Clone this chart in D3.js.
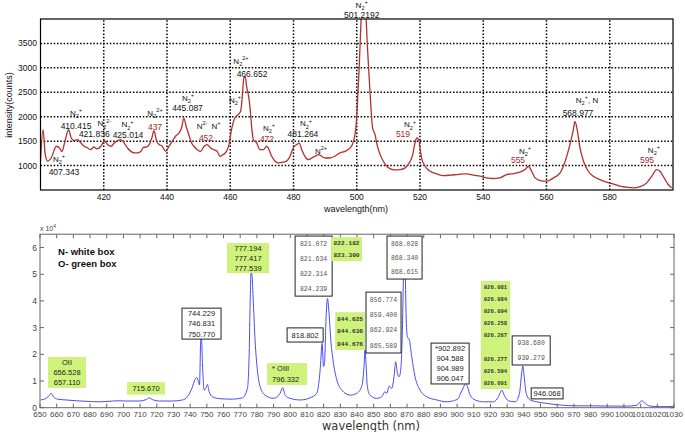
<!DOCTYPE html>
<html><head><meta charset="utf-8">
<script src="https://cdn.jsdelivr.net/npm/d3@7"></script>
<style>body{margin:0;background:#fff} svg{display:block}</style>
</head><body>
<svg id="c" width="685" height="432"></svg>
<script>
// ---------- TOP SPECTRUM (400-600 nm) ----------
const topNm = [400,400.8,401.5,402.3,403.4,405,406,406.8,407.6,408.9,409.7,410.7,411.7,412.8,413.8,414.9,415.9,416.8,417.9,419.1,420.2,421.2,422.3,423.3,424.4,425.4,426.5,427.5,428.6,429.6,430.7,431.7,432.6,433.3,434.4,435.2,435.9,436.7,437.5,438.5,439.6,440.6,441.7,442.7,443.8,444.6,445.3,446.2,446.9,447.8,448.5,449.6,450.6,451.7,452.7,453.8,454.8,455.9,456.7,457.8,458.8,459.6,460.4,461.4,462.4,463.3,463.8,464.3,464.8,465.1,465.9,466.3,466.8,467.3,468.4,469.4,470.5,471.5,472,473.1,474.2,475.2,476.8,477.8,478.9,479.9,481,481.8,482.6,483.6,484.7,485.8,486.8,487.9,488.9,490,491.5,493.1,494.7,496.3,497.9,499,499.8,500.2,500.8,501.3,502,502.9,503.4,504,504.5,505,505.8,506.3,507.4,508.4,509.5,510.5,512.1,513.7,515.3,516.6,517.7,518.4,519,519.6,520,520.5,521.6,523.2,525.3,527.4,529.5,531.6,533.7,534.8,536.9,539,541.1,543.2,545.3,547.4,549.5,551.6,553.2,554.3,555.3,556.4,558,560.1,562.2,564.3,565.9,567.4,568.5,569,569.7,570.6,571.7,573.2,574.8,576.9,579,581.1,583.2,585.3,587.5,589.6,591.7,593.3,594.8,595.9,597.2,598.5,599.6];
const topCounts = [1090,1735,1225,1090,1160,1395,1360,1290,1460,1735,1565,1510,1530,1460,1395,1360,1325,1380,1340,1395,1510,1430,1395,1460,1510,1530,1460,1360,1290,1260,1260,1290,1375,1375,1430,1565,1715,1500,1430,1395,1290,1395,1500,1600,1670,1770,1970,1770,1630,1460,1395,1325,1290,1395,1430,1360,1325,1290,1190,1225,1290,1430,1735,1970,2040,2110,2415,2790,2820,2650,2380,2150,1770,1530,1460,1325,1325,1395,1360,1190,1090,1055,1070,1090,1190,1360,1430,1460,1325,1190,1120,1155,1190,1225,1190,1155,1155,1190,1260,1290,1360,1500,1836,2244,3060,3876,5200,4100,3400,2720,2176,1770,1632,1460,1224,1088,986,939,912,918,952,1054,1224,1462,1564,1530,1360,1156,986,884,830,796,803,816,830,830,803,782,748,735,748,816,836,864,918,986,884,748,694,680,748,850,1088,1428,1734,1904,1734,1360,1088,884,782,714,660,626,578,558,544,571,646,782,918,884,748,612,544];
const topXTicks = [420,440,460,480,500,520,540,560,580];
const topYTicks = [1000,1500,2000,2500,3000,3500];

const topIonLabels = [
 {nm:405.85,c:1073,t:"N_2^+"},{nm:411.23,c:2015,t:"N_2^+"},{nm:420.2,c:1800,t:"N_2^2-"},
 {nm:427.51,c:1780,t:"N_2^+"},{nm:436.21,c:2015,t:"N_2^2+"},{nm:446.64,c:2330,t:"N_2^+"},
 {nm:451.07,c:1749,t:"N^2-"},{nm:455.49,c:1749,t:"N^+"},{nm:461.50,c:2281,t:"N_2^+"},
 {nm:463.40,c:3079,t:"N_2^2+"},{nm:472.25,c:1715,t:"N_2^+"},{nm:483.95,c:1800,t:"N_2^+"},
 {nm:488.70,c:1237,t:"N^2+"},{nm:501.57,c:4230,t:"N_2^+"},{nm:516.84,c:1780,t:"N_2^+"},
 {nm:553.20,c:1237,t:"N_2^+"},{nm:572.81,c:2281,t:"N_2^+, N"},{nm:593.98,c:1257,t:"N_2^+"}
];
const topPeakLabels = [
 {nm:407.43,c:807,t:"407.343",red:false},{nm:411.23,c:1749,t:"410.415",red:false},
 {nm:417.0,c:1590,t:"421.836",red:false},{nm:427.67,c:1570,t:"425.014",red:false},
 {nm:436.21,c:1728,t:"437",red:true},{nm:446.48,c:2117,t:"445.087",red:false},
 {nm:452.33,c:1503,t:"452",red:true},{nm:466.88,c:2813,t:"466.652",red:false},
 {nm:471.62,c:1490,t:"472",red:true},{nm:483.00,c:1575,t:"481.264",red:false},
 {nm:501.57,c:4021,t:"501.2192",red:false},{nm:514.62,c:1575,t:"519",red:true},
 {nm:550.99,c:1053,t:"555",red:true},{nm:569.96,c:2015,t:"568.977",red:false},
 {nm:591.78,c:1053,t:"595",red:true}
];

// ---------- BOTTOM SPECTRUM (650-1030 nm), intensity x10^4 ----------
const botNm = [650.4,653.6,655.7,656.7,658,660.6,665.6,671.6,677.6,685.5,693.5,697.5,701.5,709.5,713.5,715.5,717.5,721.5,729.4,735.4,738.4,741,743,744,745,745.6,746.4,746.8,747.4,748.4,749.4,750.4,751.4,753.4,757.4,765.3,771.3,774.3,775.3,775.9,776.5,777,777.9,778.9,780.3,781.9,784.9,789.9,793.9,795.5,796.9,799.9,805.9,811.9,815.9,817.9,819.1,819.9,820.5,821.5,822.3,823.1,824.3,825.9,827.9,830.9,835.9,839.9,842.8,844.2,844.8,845.4,846.2,847.8,851.8,854.8,856.8,857.8,859.4,860.8,862.2,863.2,864.2,865.2,866.2,867.2,867.8,868.4,869,869.4,870.2,871.4,872.8,874.8,877.8,881.8,887.8,893.8,897.8,900.8,901.8,903.8,905.2,906.2,907.8,910.8,915.8,921.8,924.8,926.8,928.2,930.8,934.8,937.4,938.8,939.4,940.2,941.4,943.8,947.8,953.8,961.8,971.8,981.8,991.8,1001.8,1007.7,1010.7,1012.7,1015.7,1021.7,1030];
const botIntensity = [0.29,0.35,0.47,0.54,0.41,0.32,0.29,0.26,0.24,0.22,0.25,0.26,0.25,0.25,0.30,0.37,0.30,0.25,0.25,0.29,0.41,0.72,1.07,1.13,0.97,0.85,2.6,2.6,1.6,0.66,0.72,0.87,0.6,0.41,0.34,0.32,0.37,0.72,1.85,3.72,5.1,5.0,3.9,2.53,1.41,0.79,0.47,0.35,0.54,0.75,0.47,0.35,0.29,0.37,0.54,1.41,2.41,1.54,1.66,3.41,4.09,3.66,2.53,1.66,1.04,0.66,0.47,0.54,0.79,1.54,2.16,1.66,0.79,0.47,0.35,0.41,0.6,0.54,0.81,0.72,1.16,1.72,1.29,1.16,1.41,2.9,4.78,6.2,5.0,3.53,2.66,2.53,1.91,1.16,0.66,0.41,0.29,0.22,0.26,0.35,0.5,0.75,0.94,0.79,0.47,0.29,0.22,0.22,0.41,0.66,0.47,0.26,0.22,0.54,1.35,1.56,1.16,0.54,0.29,0.22,0.16,0.1,0.07,0.07,0.06,0.06,0.09,0.26,0.16,0.06,0.04,0.04];
const botXTicks = [650,660,670,680,690,700,710,720,730,740,750,760,770,780,790,800,810,820,830,840,850,860,870,880,890,900,910,920,930,940,950,960,970,980,990,1000,1010,1020,1030];
const botYTicks = [0,1,2,3,4,5,6];

// boxes: nm range, intensity range, style, lines ("" = blank slot)
const botBoxes = [
 {x0:654.8,x1:677.6,y0:1.90,y1:0.74,s:"g",lines:["OII","656.528","657.110"]},
 {x0:702.2,x1:724.9,y0:0.96,y1:0.49,s:"g",lines:["715.670"]},
 {x0:735.1,x1:758.5,y0:3.73,y1:2.57,s:"w",lines:["744.229","746.831","750.770"]},
 {x0:762.1,x1:787.3,y0:6.17,y1:5.04,s:"g",lines:["777.194","777.417","777.539"]},
 {x0:798.1,x1:819.7,y0:2.99,y1:2.46,s:"w",lines:["818.802"]},
 {x0:786.1,x1:810.1,y0:1.67,y1:0.85,s:"gl",lines:["* OIII","796.332"]},
 {x0:802.9,x1:825.1,y0:6.43,y1:4.18,s:"wm",lines:["821.072","821.634","822.314","824.239"]},
 {x0:824.5,x1:843.0,y0:6.39,y1:5.49,s:"gm",lines:["822.182","823.300"]},
 {x0:826.9,x1:844.8,y0:3.58,y1:2.16,s:"gm",lines:["844.625","844.636","844.676"]},
 {x0:845.4,x1:866.4,y0:4.33,y1:2.05,s:"wm",lines:["856.774","859.400","862.924","865.589"]},
 {x0:858.0,x1:879.0,y0:6.43,y1:4.82,s:"wm",lines:["868.028","868.340","868.615"]},
 {x0:884.4,x1:907.2,y0:2.42,y1:0.89,s:"w",lines:["*902.892","904.588","904.989","906.047"]},
 {x0:914.2,x1:931.8,y0:4.75,y1:0.70,s:"gs",lines:["926.081","926.084","926.094","926.258","926.267","","926.277","926.594","926.601"]},
 {x0:933.0,x1:955.8,y0:2.69,y1:1.60,s:"wm",lines:["938.680","939.279"]},
 {x0:944.4,x1:963.5,y0:0.74,y1:0.33,s:"w",lines:["946.068"]}
];
const botLegend = [{nm:660.8,v:5.72,t:"N- white box"},{nm:660.8,v:5.27,t:"O- green box"}];

// ---------- drawing ----------
const svg = d3.select("#c");
const SANS = "'Liberation Sans', Arial, sans-serif";
const MONO = "'Liberation Mono', 'Courier New', monospace";

function richText(sel, str, size) {
  const segs = []; let mode = 0, buf = "";
  for (const ch of str) {
    if (ch === "_" || ch === "^") { if (buf) segs.push([buf, mode]); buf = ""; mode = ch === "_" ? 1 : 2; continue; }
    if (mode !== 0 && (ch === " " || ch === ",")) { if (buf) segs.push([buf, mode]); buf = ""; mode = 0; }
    buf += ch;
  }
  if (buf) segs.push([buf, mode]);
  let cur = 0;
  segs.forEach(([t, m]) => {
    const off = m === 1 ? size * 0.28 : m === 2 ? -size * 0.45 : 0;
    sel.append("tspan").attr("dy", off - cur).attr("font-size", m ? size * 0.7 : size).text(t);
    cur = off;
  });
}

// TOP
const tx = d3.scaleLinear().domain([400, 600]).range([40.5, 673]);
const ty = d3.scaleLinear().domain([500, 4000]).range([190, 19]);
const gT = svg.append("g");
gT.append("clipPath").attr("id", "clipT").append("rect")
  .attr("x", tx(400)).attr("y", ty(4000)).attr("width", tx(600) - tx(400)).attr("height", ty(500) - ty(4000));
// grid
gT.selectAll(".vg").data(topXTicks).join("line")
  .attr("x1", d => tx(d)).attr("x2", d => tx(d)).attr("y1", ty(500)).attr("y2", ty(4000))
  .attr("stroke", "#000").attr("stroke-width", 1.5).attr("stroke-dasharray", "1.5,1.8");
gT.selectAll(".hg").data(topYTicks).join("line")
  .attr("x1", tx(400)).attr("x2", tx(600)).attr("y1", d => ty(d)).attr("y2", d => ty(d))
  .attr("stroke", "#000").attr("stroke-width", 1.5).attr("stroke-dasharray", "1.5,1.8");
// line
const topData = topNm.map((n, i) => [n, topCounts[i]]);
gT.append("path").datum(topData).attr("clip-path", "url(#clipT)")
  .attr("d", d3.line().x(d => tx(d[0])).y(d => ty(d[1])).curve(d3.curveMonotoneX))
  .attr("fill", "none").attr("stroke", "#b3302f").attr("stroke-width", 1.3);
// frame
gT.append("rect").attr("x", tx(400)).attr("y", ty(4000)).attr("width", tx(600) - tx(400)).attr("height", ty(500) - ty(4000))
  .attr("fill", "none").attr("stroke", "#000").attr("stroke-width", 1.2);
// axes labels
gT.selectAll(".xt").data(topXTicks).join("text")
  .attr("x", d => tx(d)).attr("y", 200).attr("text-anchor", "middle")
  .attr("font-family", SANS).attr("font-size", 8.5).attr("fill", "#111").text(d => d);
gT.selectAll(".yt").data(topYTicks).join("text")
  .attr("x", 37).attr("y", d => ty(d) + 3).attr("text-anchor", "end")
  .attr("font-family", SANS).attr("font-size", 8.5).attr("fill", "#111").text(d => d);
gT.append("text").attr("transform", "translate(12,105) rotate(-90)").attr("text-anchor", "middle")
  .attr("font-family", SANS).attr("font-size", 9).attr("fill", "#111").text("intensity(counts)");
gT.append("text").attr("x", 356).attr("y", 212).attr("text-anchor", "middle")
  .attr("font-family", SANS).attr("font-size", 9).attr("fill", "#111").text("wavelength(nm)");
// annotations
topIonLabels.forEach(l => {
  const t = gT.append("text").attr("x", tx(l.nm)).attr("y", ty(l.c)).attr("text-anchor", "middle")
    .attr("font-family", SANS).attr("fill", "#111").style("white-space", "pre");
  richText(t, l.t, 8);
});
gT.selectAll(".pl").data(topPeakLabels).join("text")
  .attr("x", d => tx(d.nm)).attr("y", d => ty(d.c)).attr("text-anchor", "middle")
  .attr("font-family", SANS).attr("font-size", 8.5)
  .attr("fill", d => d.red ? "#a5282a" : "#111").text(d => d.t);

// BOTTOM
const bx = d3.scaleLinear().domain([650, 1030]).range([40, 674]);
const by = d3.scaleLinear().domain([0, 6.5]).range([407.7, 234.2]);
const gB = svg.append("g");
gB.append("clipPath").attr("id", "clipB").append("rect")
  .attr("x", bx(650)).attr("y", by(6.5)).attr("width", bx(1030) - bx(650)).attr("height", by(0) - by(6.5));
const botData = botNm.map((n, i) => [n, botIntensity[i]]);
gB.append("path").datum(botData).attr("clip-path", "url(#clipB)")
  .attr("d", d3.line().x(d => bx(d[0])).y(d => by(d[1])).curve(d3.curveMonotoneX))
  .attr("fill", "none").attr("stroke", "#4b4bf0").attr("stroke-width", 1);
// frame and ticks
gB.append("rect").attr("x", bx(650)).attr("y", by(6.5)).attr("width", bx(1030) - bx(650)).attr("height", by(0) - by(6.5))
  .attr("fill", "none").attr("stroke", "#666").attr("stroke-width", 1);
const tk = 4;
gB.selectAll(".bt").data(botXTicks).join("line")
  .attr("x1", d => bx(d)).attr("x2", d => bx(d)).attr("y1", by(0)).attr("y2", by(0) - tk).attr("stroke", "#666");
gB.selectAll(".tt").data(botXTicks).join("line")
  .attr("x1", d => bx(d)).attr("x2", d => bx(d)).attr("y1", by(6.5)).attr("y2", by(6.5) + tk).attr("stroke", "#666");
gB.selectAll(".lt").data(botYTicks).join("line")
  .attr("x1", bx(650)).attr("x2", bx(650) + tk).attr("y1", d => by(d)).attr("y2", d => by(d)).attr("stroke", "#666");
gB.selectAll(".rt").data(botYTicks).join("line")
  .attr("x1", bx(1030)).attr("x2", bx(1030) - tk).attr("y1", d => by(d)).attr("y2", d => by(d)).attr("stroke", "#666");
gB.selectAll(".bxl").data(botXTicks).join("text")
  .attr("x", d => bx(d)).attr("y", 416.5).attr("text-anchor", "middle")
  .attr("font-family", SANS).attr("font-size", 8).attr("fill", "#444").text(d => d);
gB.selectAll(".byl").data(botYTicks).join("text")
  .attr("x", 37).attr("y", d => by(d) + 3).attr("text-anchor", "end")
  .attr("font-family", SANS).attr("font-size", 8.5).attr("fill", "#444").text(d => d);
const x10 = gB.append("text").attr("x", 40).attr("y", 231).attr("font-family", SANS).attr("fill", "#444").style("white-space", "pre");
richText(x10, "x 10^4", 7);
gB.append("text").attr("x", 371).attr("y", 429.5).attr("text-anchor", "middle")
  .attr("font-family", "'DejaVu Sans', Verdana, sans-serif").attr("font-size", 11.5).attr("fill", "#333").text("wavelength (nm)");
// legend
gB.selectAll(".lg").data(botLegend).join("text")
  .attr("x", d => bx(d.nm)).attr("y", d => by(d.v)).attr("font-family", SANS).attr("font-weight", "bold")
  .attr("font-size", 9.5).attr("fill", "#111").text(d => d.t);
// boxes
botBoxes.forEach(b => {
  const x0 = bx(b.x0), x1 = bx(b.x1), y0 = by(b.y0), y1 = by(b.y1);
  const green = b.s[0] === "g";
  gB.append("rect").attr("x", x0).attr("y", y0).attr("width", x1 - x0).attr("height", y1 - y0)
    .attr("fill", green ? "#cff27c" : "#fff").attr("stroke", green ? "none" : "#222").attr("stroke-width", 1);
  const n = b.lines.length, h = (y1 - y0) / n;
  let font = SANS, size = 7.5, col = "#222", weight = "normal";
  if (b.s === "wm") { font = MONO; size = 6.5; col = "#555"; }
  if (b.s === "gm") { font = MONO; size = 6.2; col = "#333"; weight = "bold"; }
  if (b.s === "gs") { font = MONO; size = 5.6; col = "#333"; weight = "bold"; }
  const left = b.s === "gl";
  b.lines.forEach((t, i) => {
    if (!t) return;
    gB.append("text").attr("x", left ? x0 + 5 : (x0 + x1) / 2).attr("y", y0 + (i + 0.5) * h + size * 0.35)
      .attr("text-anchor", left ? "start" : "middle")
      .attr("font-family", font).attr("font-size", size).attr("font-weight", weight).attr("fill", col).text(t);
  });
});
</script>
</body></html>
